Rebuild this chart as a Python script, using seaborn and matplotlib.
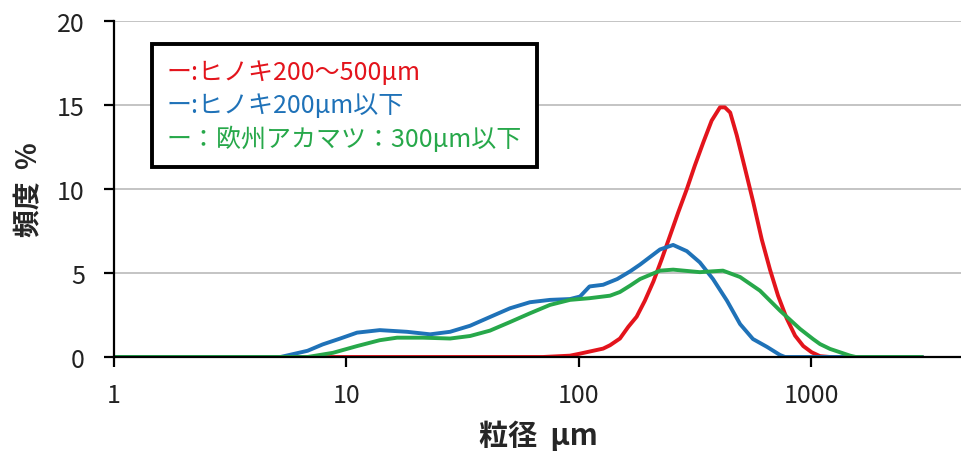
import matplotlib
matplotlib.use("Agg")
import matplotlib.pyplot as plt
import seaborn as sns

# ヒノキ200～500μm
red_size = [1, 70, 91.5, 101, 127, 136, 150, 163, 177, 192, 209, 227, 246, 267, 291, 315,
            343, 372, 404, 424, 447, 477, 518, 562, 611, 663, 718, 782, 850, 922, 1002,
            1088, 1202, 3000]
red_freq = [0, 0, 0.08, 0.2, 0.5, 0.7, 1.1, 1.8, 2.4, 3.35, 4.5, 5.83, 7.2, 8.6, 10.0, 11.4,
            12.8, 14.07, 14.86, 14.86, 14.55, 13.2, 11.2, 9.2, 7.0, 5.2, 3.65, 2.3, 1.27,
            0.65, 0.28, 0.05, 0, 0]

# ヒノキ200μm以下
blue_size = [1, 5.2, 6.8, 7.9, 9.4, 11.1, 13.9, 18.2, 22.9, 27.9, 34, 41.4, 50.5, 61.5, 75,
             91.5, 101, 111, 127, 146, 166, 183, 223, 254, 291, 331, 377, 433, 493, 560,
             644, 732, 769, 3000]
blue_freq = [0, 0, 0.37, 0.75, 1.1, 1.45, 1.6, 1.5, 1.35, 1.5, 1.86, 2.38, 2.9, 3.26, 3.4,
             3.45, 3.6, 4.2, 4.3, 4.64, 5.1, 5.5, 6.4, 6.67, 6.3, 5.63, 4.64, 3.35, 1.96, 1.07,
             0.6, 0.12, 0, 0]

# 欧州アカマツ：300μm以下
green_size = [1, 6.8, 8.75, 11.1, 13.9, 16.5, 21.3, 27.9, 34, 41.4, 50.5, 61.5, 75, 91.5,
              111, 136, 150, 166, 183, 223, 254, 331, 416, 493, 600, 732, 893, 1015, 1088,
              1202, 1466, 1550, 2987]
green_freq = [0, 0, 0.25, 0.65, 1.0, 1.15, 1.15, 1.1, 1.25, 1.57, 2.08, 2.6, 3.1, 3.4,
              3.5, 3.65, 3.87, 4.25, 4.64, 5.14, 5.2, 5.05, 5.14, 4.76, 3.95, 2.76, 1.67, 1.07,
              0.77, 0.48, 0.08, 0, 0]

labels = ["ー:ヒノキ200～500μm", "ー:ヒノキ200μm以下", "ー：欧州アカマツ：300μm以下"]
colors = ["#E3141C", "#1F72B8", "#27A84A"]
x_ticks = [1, 10, 100, 1000]
y_ticks = [0, 5, 10, 15, 20]

sns.set_theme(style="white")
plt.rcParams["font.family"] = ["Noto Sans CJK JP", "DejaVu Sans"]

fig = plt.figure(figsize=(9.62, 4.52), dpi=100)
ax = fig.add_axes([114 / 962, 94 / 452, 848 / 962, 336 / 452])

series = [(red_size, red_freq), (blue_size, blue_freq), (green_size, green_freq)]
for (xs, ys), lab, col in zip(series, labels, colors):
    sns.lineplot(x=xs, y=ys, color=col, label=lab, linewidth=2.8, sort=False, ax=ax)

ax.set_xscale("log")
ax.set_xlim(1, 10 ** (848 / 232.5))
ax.set_ylim(0, 20)
ax.set_xticks(x_ticks)
ax.set_xticklabels([str(t) for t in x_ticks])
ax.xaxis.set_minor_locator(matplotlib.ticker.NullLocator())
ax.set_yticks(y_ticks)

ax.grid(axis="y", color="#BFBFBF", linewidth=1.3)
ax.grid(axis="x", visible=False)
ax.set_axisbelow(True)
for s in ["top", "right"]:
    ax.spines[s].set_visible(False)
for s in ["left", "bottom"]:
    ax.spines[s].set_color("black")
    ax.spines[s].set_linewidth(1.6)

ax.tick_params(axis="both", which="major", direction="out", length=7, width=1.6,
               color="black", labelsize=18, labelcolor="#222222")
ax.tick_params(axis="x", pad=11)
ax.tick_params(axis="y", pad=14, left=True)
ax.tick_params(axis="x", bottom=True)

ax.set_xlabel("粒径  μm", fontsize=21, fontweight="bold", labelpad=8)
ax.set_ylabel("頻度  %", fontsize=20, fontweight="bold", labelpad=10)

leg = ax.legend(loc="upper left", bbox_to_anchor=(38 / 848, 313 / 336), borderaxespad=0,
                handlelength=0, handletextpad=0, fancybox=False, framealpha=1,
                edgecolor="black", fontsize=18, labelcolor="linecolor",
                borderpad=0.6, labelspacing=0.3)
leg.get_frame().set_linewidth(2.8)
for h in leg.legend_handles:
    h.set_visible(False)

fig.savefig("out.png", dpi=100)
